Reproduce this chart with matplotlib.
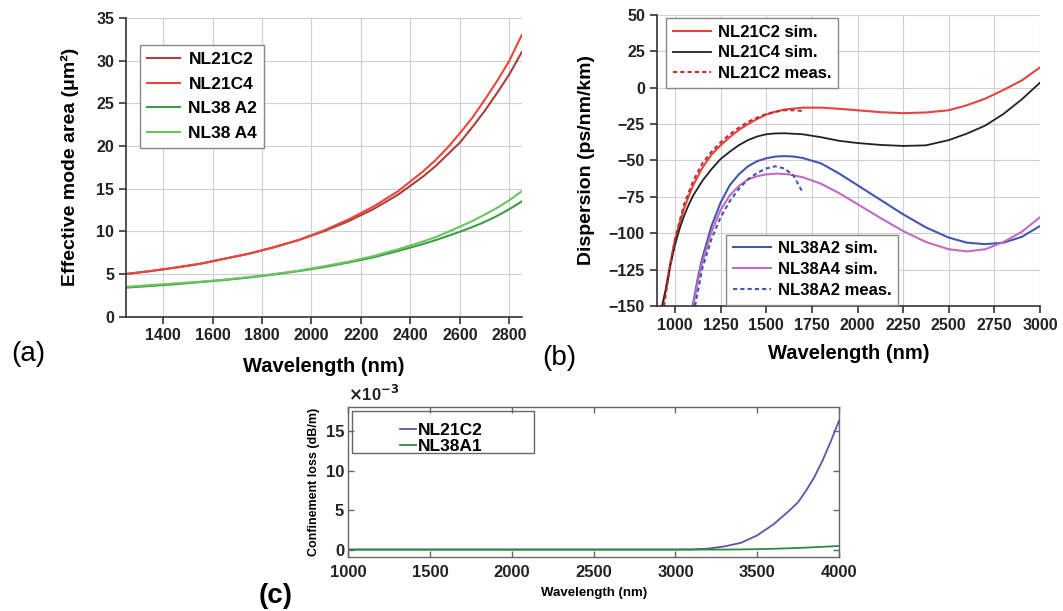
import matplotlib
matplotlib.use("Agg")
import matplotlib.pyplot as plt
from matplotlib.patches import Rectangle
from matplotlib.ticker import FuncFormatter

plt.rcParams["font.family"] = ["Liberation Sans", "DejaVu Sans"]
plt.rcParams["font.weight"] = "bold"
plt.rcParams["axes.labelweight"] = "bold"

# (a) effective mode area, um^2
wl_a = [1250, 1350, 1450, 1550, 1650, 1750, 1850, 1950, 2050, 2150, 2250, 2350,
        2450, 2500, 2550, 2600, 2650, 2700, 2750, 2800, 2850]
area_nl21c2 = [5.0, 5.35, 5.75, 6.2, 6.8, 7.4, 8.15, 9.0, 10.0, 11.2, 12.6, 14.3,
               16.4, 17.6, 19.0, 20.4, 22.2, 24.1, 26.2, 28.4, 31.0]
area_nl21c4 = [5.0, 5.35, 5.75, 6.2, 6.8, 7.4, 8.15, 9.0, 10.1, 11.4, 12.9, 14.7,
               17.0, 18.3, 19.8, 21.5, 23.3, 25.4, 27.6, 30.0, 33.0]
area_nl38a2 = [3.4, 3.6, 3.8, 4.05, 4.3, 4.6, 4.95, 5.35, 5.8, 6.35, 6.95, 7.7,
               8.5, 8.95, 9.45, 9.95, 10.5, 11.1, 11.8, 12.6, 13.5]
area_nl38a4 = [3.5, 3.7, 3.9, 4.1, 4.35, 4.65, 5.0, 5.4, 5.9, 6.45, 7.1, 7.9,
               8.8, 9.3, 9.9, 10.55, 11.2, 11.95, 12.75, 13.65, 14.7]

# (b) dispersion, ps/nm/km
wl_b21 = [930, 950, 975, 1000, 1025, 1050, 1075, 1100, 1150, 1200, 1250, 1300, 1350,
          1400, 1450, 1500, 1550, 1600, 1700, 1800, 1900, 2000, 2125, 2250, 2375,
          2500, 2600, 2700, 2800, 2900, 3000]
disp_nl21c2_sim = [-150, -138, -120, -105, -93, -83, -74.5, -67, -55, -46, -39.5, -34, -29,
                   -25, -21.5, -18.5, -16.5, -15, -13.7, -13.7, -14.5, -15.5, -16.8, -17.5, -17,
                   -15.5, -12, -7.5, -1.5, 5, 14]
disp_nl21c4_sim = [-150, -139, -122, -108, -97, -88, -80.5, -74, -64, -56, -49, -44, -39.5,
                   -36, -33.5, -32, -31.4, -31.3, -32, -34, -36.5, -38, -39.3, -40, -39.6,
                   -36, -31.5, -26, -18, -8, 3.5]
wl_b21_meas = [940, 975, 1000, 1050, 1100, 1150, 1200, 1250, 1300, 1350, 1400, 1450,
               1500, 1550, 1600, 1650, 1700]
disp_nl21c2_meas = [-150, -122, -104, -80, -64, -52, -44, -37.5, -32, -27.5, -23.5, -20.5,
                    -18, -16.5, -15.5, -15.5, -16]

wl_b38a2 = [1097, 1125, 1150, 1200, 1250, 1300, 1350, 1400, 1450, 1500, 1550, 1600, 1650,
            1700, 1800, 1900, 2000, 2125, 2250, 2375, 2500, 2600, 2700, 2800, 2900, 3000]
disp_nl38a2_sim = [-150, -131, -117, -95, -79, -67, -59.5, -54, -50.5, -48.5, -47.3, -47,
                   -47.3, -48.3, -52, -59, -67, -77, -87, -96, -103, -106.5, -107.5,
                   -106.5, -102.5, -95]
wl_b38a4 = [1100, 1125, 1150, 1200, 1250, 1300, 1350, 1400, 1450, 1500, 1560, 1620, 1700,
            1800, 1900, 2000, 2125, 2250, 2375, 2500, 2600, 2700, 2800, 2900, 3000]
disp_nl38a4_sim = [-150, -133, -120, -99, -84, -74, -67.5, -63, -60.8, -59.6, -59, -59.5,
                   -61.5, -66, -72.5, -80, -89.5, -98.5, -106, -111, -112.5, -111, -106,
                   -99, -89]
wl_b38_meas = [1110, 1150, 1200, 1250, 1300, 1350, 1400, 1450, 1500, 1550, 1600, 1650, 1700]
disp_nl38a2_meas = [-150, -124, -104, -89, -78, -69.5, -63, -58.5, -55.5, -54, -55.5,
                    -60.5, -72]

# (c) confinement loss, dB/m
wl_c = [1000, 1500, 2000, 2500, 3000, 3100, 3200, 3300, 3400, 3500, 3600,
        3700, 3750, 3800, 3850, 3900, 3950, 4000]
loss_nl21c2 = [0, 0, 0, 0, 0, 0.00002, 0.00012, 0.0004, 0.00085, 0.0018, 0.0032,
               0.005, 0.006, 0.0075, 0.0092, 0.0113, 0.0137, 0.0163]
loss_nl38a1 = [0, 0, 0, 0, 0, 0, 0, 0, 0.00002, 0.00005, 0.0001,
               0.00017, 0.0002, 0.00025, 0.0003, 0.00035, 0.0004, 0.00045]

fig = plt.figure(figsize=(10.63, 6.11), dpi=100)


def style_ax(ax):
    ax.grid(True, color="#cfcfcf", linewidth=0.8)
    ax.set_axisbelow(True)
    for s in ["top", "right"]:
        ax.spines[s].set_visible(False)
    for s in ["left", "bottom"]:
        ax.spines[s].set_color("#333333")
        ax.spines[s].set_linewidth(1.2)
    ax.tick_params(direction="out", length=5, width=1.2, color="#333333",
                   labelsize=11.5, labelcolor="#222222")
    for lab in ax.get_xticklabels() + ax.get_yticklabels():
        lab.set_fontweight("bold")


def boxed_legend(ax, handles, **kw):
    leg = ax.legend(handles=handles, borderaxespad=0, fancybox=False, framealpha=1,
                    edgecolor="#888888", **kw)
    leg.get_frame().set_linewidth(1.0)
    return leg


# ---- (a)
ax1 = fig.add_axes([0.1185, 0.4817, 0.3723, 0.4888])
a1, = ax1.plot(wl_a, area_nl21c2, color="#a8403e", lw=1.5, label="NL21C2")
a2, = ax1.plot(wl_a, area_nl21c4, color="#e8463c", lw=1.5, label="NL21C4")
a3, = ax1.plot(wl_a, area_nl38a2, color="#3c9c48", lw=1.5, label="NL38 A2")
a4, = ax1.plot(wl_a, area_nl38a4, color="#6cc45e", lw=1.5, label="NL38 A4")
ax1.set_xlim(1250, 2850)
ax1.set_ylim(0, 35)
ax1.set_xticks(range(1400, 2801, 200))
ax1.set_yticks(range(0, 36, 5))
style_ax(ax1)
ax1.set_xlabel("Wavelength (nm)", fontsize=14.5, labelpad=10)
ax1.set_ylabel("Effective mode area (μm²)", fontsize=14, labelpad=12)
boxed_legend(ax1, [a1, a2, a3, a4], loc="upper left", bbox_to_anchor=(0.035, 0.91),
             fontsize=12.5, handlelength=1.9, handletextpad=0.5, labelspacing=0.55)
fig.text(0.027, 0.42, "(a)", fontsize=20, fontweight="normal", ha="center", va="center")

# ---- (b)
ax2 = fig.add_axes([0.6178, 0.4992, 0.3606, 0.4763])
l1, = ax2.plot(wl_b21, disp_nl21c2_sim, color="#e8413f", lw=1.5, label="NL21C2 sim.")
l2, = ax2.plot(wl_b21, disp_nl21c4_sim, color="#222222", lw=1.3, label="NL21C4 sim.")
l3, = ax2.plot(wl_b21_meas, disp_nl21c2_meas, color="#c0302b", lw=1.5, ls=(0, (2, 1.5)),
               label="NL21C2 meas.")
l4, = ax2.plot(wl_b38a2, disp_nl38a2_sim, color="#4256b4", lw=1.5, label="NL38A2 sim.")
l5, = ax2.plot(wl_b38a4, disp_nl38a4_sim, color="#c46ac0", lw=1.5, label="NL38A4 sim.")
l6, = ax2.plot(wl_b38_meas, disp_nl38a2_meas, color="#4256b4", lw=1.5, ls=(0, (2, 1.5)),
               label="NL38A2 meas.")
ax2.set_xlim(900, 3000)
ax2.set_ylim(-150, 50)
ax2.set_xticks(range(1000, 3001, 250))
ax2.set_yticks(range(-150, 51, 25))
style_ax(ax2)
ax2.set_xlabel("Wavelength (nm)", fontsize=14.5, labelpad=8)
ax2.set_ylabel("Dispersion (ps/nm/km)", fontsize=14, labelpad=10)
leg_top = boxed_legend(ax2, [l1, l2, l3], loc="upper left", bbox_to_anchor=(0.025, 0.99),
                       fontsize=12, handlelength=2.3, handletextpad=0.4, labelspacing=0.35)
ax2.add_artist(leg_top)
boxed_legend(ax2, [l4, l5, l6], loc="lower left", bbox_to_anchor=(0.181, 0.005),
             fontsize=12, handlelength=2.3, handletextpad=0.4, labelspacing=0.35)
fig.text(0.526, 0.414, "(b)", fontsize=20, fontweight="normal", ha="center", va="center")

# ---- (c)
ax3 = fig.add_axes([0.3277, 0.0889, 0.4616, 0.2445])
c1, = ax3.plot(wl_c, loss_nl21c2, color="#6650a8", lw=1.3, label="NL21C2")
c2, = ax3.plot(wl_c, loss_nl38a1, color="#2e8b3e", lw=1.3, label="NL38A1")
ax3.set_xlim(1000, 4000)
ax3.set_ylim(-0.0009, 0.018)
ax3.set_xticks(range(1000, 4001, 500))
ax3.set_yticks([0, 0.005, 0.010, 0.015])
ax3.yaxis.set_major_formatter(FuncFormatter(lambda v, _: f"{v * 1e3:g}"))
for s in ax3.spines.values():
    s.set_color("#666666")
    s.set_linewidth(1.0)
ax3.tick_params(direction="in", length=4, width=1.0, color="#666666", top=True, right=True,
                labelsize=12, labelcolor="#222222", pad=3)
ax3.tick_params(axis="x", pad=6)
for lab in ax3.get_xticklabels() + ax3.get_yticklabels():
    lab.set_fontweight("bold")
ax3.set_xlabel("Wavelength (nm)", fontsize=9.5, labelpad=5)
ax3.set_ylabel("Confinement loss (dB/m)", fontsize=9, labelpad=4)
ax3.text(0.0, 1.02, r"$\times$10$^{\mathbf{-3}}$", transform=ax3.transAxes, fontsize=12,
         fontweight="bold", ha="left", va="bottom", color="#222222")
ax3.add_patch(Rectangle((0.007, 0.692), 0.371, 0.285, transform=ax3.transAxes,
                        fill=False, edgecolor="#666666", lw=1.0, zorder=5))
ax3.legend(handles=[c1, c2], loc="upper left", bbox_to_anchor=(0.092, 0.945),
           borderaxespad=0, frameon=False, fontsize=12.5, handlelength=0.9,
           handletextpad=0.1, labelspacing=0.1)
fig.text(0.259, 0.024, "(c)", fontsize=20, fontweight="bold", ha="center", va="center")

fig.savefig("out.png", dpi=100)
